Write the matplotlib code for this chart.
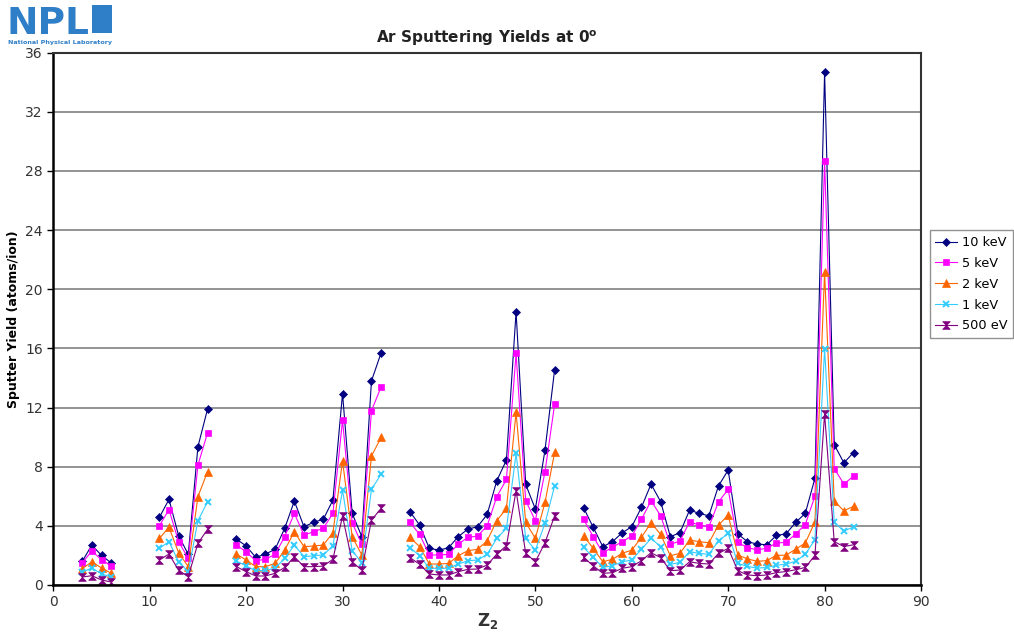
import numpy as np
import matplotlib
matplotlib.use("Agg")
import matplotlib.pyplot as plt
from matplotlib.path import Path
from matplotlib.patches import Rectangle

# atomic number segments (gaps where no data)
z_groups = [
    [3, 4, 5, 6],
    [11, 12, 13, 14, 15, 16],
    list(range(19, 35)),
    list(range(37, 53)),
    list(range(55, 84)),
]

y_10kev = [
    [1.6, 2.7, 2.0, 1.5],
    [4.57, 5.79, 3.33, 2.07, 9.35, 11.9],
    [3.1, 2.64, 1.87, 2.09, 2.41, 3.83, 5.68, 3.94, 4.24, 4.44, 5.74, 12.95, 4.84, 3.27, 13.8, 15.7],
    [4.95, 4.05, 2.48, 2.36, 2.52, 3.27, 3.78, 3.94, 4.77, 7.05, 8.45, 18.47, 6.8, 5.14, 9.12, 14.57],
    [5.23, 3.9, 2.59, 2.93, 3.53, 3.94, 5.25, 6.82, 5.63, 3.27, 3.53, 5.07, 4.84, 4.68, 6.71, 7.77,
     3.45, 2.93, 2.77, 2.72, 3.35, 3.46, 4.23, 4.85, 7.22, 34.67, 9.5, 8.26, 8.96],
]
y_5kev = [
    [1.5, 2.3, 1.7, 1.3],
    [4.0, 5.1, 2.93, 1.8, 8.1, 10.3],
    [2.7, 2.25, 1.64, 1.74, 2.07, 3.27, 4.84, 3.38, 3.6, 3.83, 4.84, 11.15, 4.21, 2.77, 11.78, 13.4],
    [4.23, 3.42, 2.03, 2.03, 2.07, 2.77, 3.22, 3.31, 4.0, 5.97, 7.14, 15.66, 5.7, 4.35, 7.66, 12.23],
    [4.44, 3.27, 2.18, 2.55, 2.93, 3.31, 4.44, 5.7, 4.68, 2.75, 2.97, 4.28, 4.05, 3.94, 5.63, 6.46,
     2.88, 2.53, 2.37, 2.49, 2.84, 2.88, 3.46, 4.09, 6.01, 28.68, 7.87, 6.83, 7.36],
]
y_2kev = [
    [1.1, 1.57, 1.15, 0.8],
    [3.15, 3.9, 2.18, 1.24, 5.97, 7.66],
    [2.09, 1.69, 1.24, 1.24, 1.46, 2.36, 3.6, 2.59, 2.64, 2.7, 3.53, 8.4, 3.27, 2.03, 8.72, 9.98],
    [3.22, 2.59, 1.42, 1.42, 1.46, 1.98, 2.32, 2.41, 2.99, 4.35, 5.18, 11.67, 4.23, 3.15, 5.59, 8.97],
    [3.31, 2.48, 1.57, 1.74, 2.14, 2.36, 3.22, 4.21, 3.42, 1.98, 2.14, 3.04, 2.93, 2.86, 4.05, 4.73,
     2.03, 1.77, 1.6, 1.65, 2.0, 2.02, 2.42, 2.84, 4.27, 21.16, 5.67, 5.02, 5.32],
]
y_1kev = [
    [0.87, 1.15, 0.75, 0.54],
    [2.48, 2.93, 1.57, 0.9, 4.35, 5.63],
    [1.62, 1.3, 0.95, 1.0, 1.13, 1.8, 2.7, 1.91, 1.98, 2.03, 2.64, 6.42, 2.32, 1.51, 6.46, 7.5],
    [2.52, 1.98, 1.13, 1.13, 1.13, 1.42, 1.64, 1.69, 2.07, 3.15, 3.83, 8.9, 3.15, 2.36, 4.17, 6.71],
    [2.55, 1.87, 1.19, 1.3, 1.57, 1.69, 2.41, 3.15, 2.59, 1.4, 1.53, 2.25, 2.14, 2.07, 2.99, 3.49,
     1.46, 1.26, 1.14, 1.19, 1.33, 1.42, 1.6, 2.07, 3.07, 15.99, 4.23, 3.65, 3.93],
]
y_500ev = [
    [0.54, 0.63, 0.34, 0.2],
    [1.69, 2.09, 1.0, 0.56, 2.82, 3.76],
    [1.24, 0.9, 0.61, 0.61, 0.79, 1.19, 1.91, 1.24, 1.24, 1.28, 1.74, 4.66, 1.57, 1.0, 4.39, 5.18],
    [1.85, 1.4, 0.74, 0.68, 0.68, 0.9, 1.06, 1.08, 1.35, 2.09, 2.66, 6.37, 2.14, 1.57, 2.86, 4.68],
    [1.87, 1.3, 0.79, 0.83, 1.13, 1.24, 1.64, 2.18, 1.85, 0.97, 1.01, 1.57, 1.46, 1.42, 2.14, 2.48,
     0.97, 0.68, 0.63, 0.68, 0.84, 0.91, 1.03, 1.19, 2.0, 11.58, 2.93, 2.6, 2.72],
]

labels = ["10 keV", "5 keV", "2 keV", "1 keV", "500 eV"]
colors = ["#000080", "#FF00FF", "#FF6600", "#33CCFF", "#800080"]

# hourglass marker like the Excel one
hourglass = Path([(-1, 1), (1, 1), (-1, -1), (1, -1), (-1, 1)],
                 [Path.MOVETO, Path.LINETO, Path.LINETO, Path.LINETO, Path.CLOSEPOLY])
markers = ["D", "s", "^", "x", hourglass]
msizes = [4, 5, 5.5, 5, 5.5]

fig = plt.figure(figsize=(10.14, 6.32), dpi=100)
ax = fig.add_axes([53.3 / 1014, 47 / 632, (921 - 53.3) / 1014, (585 - 52.7) / 632])

all_series = [y_10kev, y_5kev, y_2kev, y_1kev, y_500ev]
for series, lab, col, mk, ms in zip(all_series, labels, colors, markers, msizes):
    for i, (zs, ys) in enumerate(zip(z_groups, series)):
        ax.plot(zs, ys, color=col, lw=0.8, marker=mk, markersize=ms,
                markeredgewidth=1.4 if mk == "x" else 0.5, markeredgecolor=col,
                markerfacecolor=col, label=lab if i == 0 else None)

ax.set_xlim(0, 90)
ax.set_ylim(0, 36)
ax.set_xticks(np.arange(0, 91, 10))
ax.set_yticks(np.arange(0, 37, 4))
ax.yaxis.grid(True, color="#808080", lw=1.2)
ax.set_axisbelow(True)
for s in ["left", "bottom"]:
    ax.spines[s].set_linewidth(1.8)
    ax.spines[s].set_color("black")
for s in ["top", "right"]:
    ax.spines[s].set_linewidth(1.5)
    ax.spines[s].set_color("#333333")
ax.tick_params(direction="out", length=4, width=1, labelsize=10, labelcolor="#333333")

ax.set_title("Ar Sputtering Yields at 0$^\\mathregular{o}$", fontsize=11,
             fontweight="bold", color="#222222", pad=7)
ax.set_ylabel("Sputter Yield (atoms/ion)", fontsize=9, fontweight="bold", labelpad=4)
ax.set_xlabel("Z$_\\mathregular{2}$", fontsize=12, fontweight="bold", color="#333333", labelpad=1)

leg = ax.legend(loc="center left", bbox_to_anchor=(1.01, 0.565), fontsize=9.3,
                frameon=True, fancybox=False, edgecolor="#777777",
                handlelength=1.7, handletextpad=0.35, labelspacing=0.6,
                borderpad=0.45, borderaxespad=0.0)
leg.get_frame().set_linewidth(1)

# NPL logo as text
fig.text(0.006, 0.946, "NPL", fontsize=27, fontweight="heavy", color="#2F7FC8")
fig.patches.append(Rectangle((0.091, 0.948), 0.019, 0.044, transform=fig.transFigure,
                             facecolor="#2F7FC8", edgecolor="none"))
fig.text(0.008, 0.930, "National Physical Laboratory", fontsize=4.6,
         fontweight="bold", color="#2F7FC8")

fig.savefig("out.png", dpi=100)
